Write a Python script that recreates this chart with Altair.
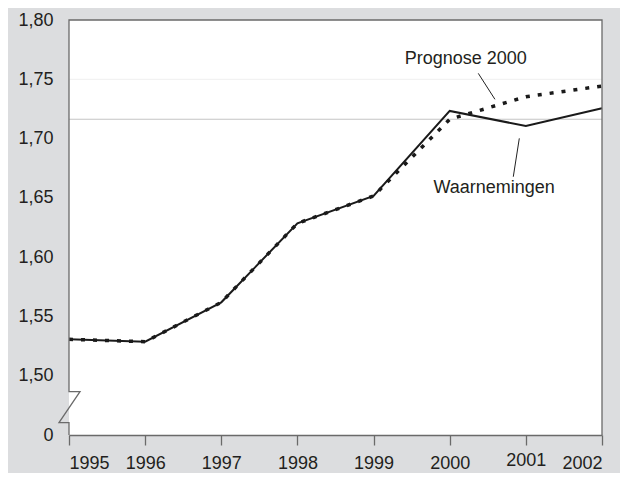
import altair as alt
import pandas as pd

# --- data ---
years = [1995, 1996, 1997, 1998, 1999, 2000, 2001, 2002]
waarnemingen = [1.5307, 1.5287, 1.5619, 1.6285, 1.6516, 1.7233, 1.7106, 1.7255]
prognose = [1.5307, 1.5287, 1.5619, 1.6285, 1.6516, 1.7163, 1.7353, 1.7443]

y_ticks = [1.45, 1.50, 1.55, 1.60, 1.65, 1.70, 1.75, 1.80]
grid_values = [1.75]
ref_values = [1.7163]

# frame with axis break (data space)
frame_x = [2002, 2002, 1995, 1995, 1995.1445, 1994.8687, 1995, 1995]
frame_y = [1.45, 1.80, 1.80, 1.4865, 1.4865, 1.4604, 1.4604, 1.45]

# annotations
ann_text = ["Prognose 2000", "Waarnemingen"]
ann_x = [2000.211, 2000.584]
ann_y = [1.7629, 1.6538]
lead_x1 = [2000.375, 2000.914]
lead_y1 = [1.7550, 1.7002]
lead_x2 = [2000.594, 2000.835]
lead_y2 = [1.7331, 1.6678]

FONT = "Liberation Sans"
TXT = "#231f20"
AX = "#6a6a6a"

df = pd.DataFrame({"jaar": years, "w": waarnemingen, "p": prognose})
frame_df = pd.DataFrame({"x": frame_x, "y": frame_y, "o": list(range(len(frame_x)))})
ann_df = pd.DataFrame({"t": ann_text, "x": ann_x, "y": ann_y})
lead_df = pd.DataFrame({"x": lead_x1, "y": lead_y1, "x2": lead_x2, "y2": lead_y2})
grid_df = pd.DataFrame({"v": grid_values})
ref_df = pd.DataFrame({"v": ref_values})

xscale = alt.Scale(domain=[1995, 2002], nice=False)
yscale = alt.Scale(domain=[1.45, 1.80], nice=False, zero=False)

xaxis = alt.Axis(
    values=years, format="d", title=None, grid=False,
    domain=True, domainColor=AX, domainWidth=1.3,
    ticks=True, tickColor=AX, tickSize=10, tickWidth=1.3,
    labelFont=FONT, labelFontSize=18, labelColor=TXT,
    labelPadding={"condition": {"test": "datum.value == 2001", "value": 6}, "value": 9},
)
yaxis = alt.Axis(
    values=y_ticks, title=None, grid=False, domain=False, ticks=False,
    labelExpr="datum.value < 1.46 ? '0' : replace(format(datum.value, '.2f'), '.', ',')",
    labelFont=FONT, labelFontSize=18, labelColor=TXT, labelPadding=16,
)

base_x = alt.X("jaar:Q", scale=xscale, axis=xaxis)

grid = alt.Chart(grid_df).mark_rule(color="#efefef", strokeWidth=1).encode(
    y=alt.Y("v:Q", scale=yscale, axis=yaxis)
)
ref = alt.Chart(ref_df).mark_rule(color="#c4c4c4", strokeWidth=1).encode(
    y=alt.Y("v:Q", scale=yscale)
)

solid = alt.Chart(df).mark_line(color="#1a1a1a", strokeWidth=2).encode(
    x=base_x, y=alt.Y("w:Q", scale=yscale)
)
dotted = alt.Chart(df).mark_line(color="#1a1a1a", strokeWidth=3.5, strokeDash=[4, 8]).encode(
    x=alt.X("jaar:Q", scale=xscale), y=alt.Y("p:Q", scale=yscale)
)

frame = alt.Chart(frame_df).mark_line(color=AX, strokeWidth=1.3).encode(
    x=alt.X("x:Q", scale=xscale), y=alt.Y("y:Q", scale=yscale), order="o:Q"
)

leaders = alt.Chart(lead_df).mark_rule(color="#222222", strokeWidth=1).encode(
    x=alt.X("x:Q", scale=xscale), y=alt.Y("y:Q", scale=yscale), x2="x2:Q", y2="y2:Q"
)
labels = alt.Chart(ann_df).mark_text(
    font=FONT, fontSize=18, color=TXT, align="center", baseline="alphabetic"
).encode(
    x=alt.X("x:Q", scale=xscale), y=alt.Y("y:Q", scale=yscale), text="t:N"
)

chart = alt.layer(grid, ref, solid, dotted, frame, leaders, labels).properties(
    width=533, height=415,
    background="#dcdddf",
    padding={"left": 61, "top": 12, "right": 18, "bottom": 38},
    autosize=alt.AutoSizeParams(type="none"),
).configure_view(fill="white", stroke=None)

chart.save("out.html", embed_options={"renderer": "svg", "actions": False})
